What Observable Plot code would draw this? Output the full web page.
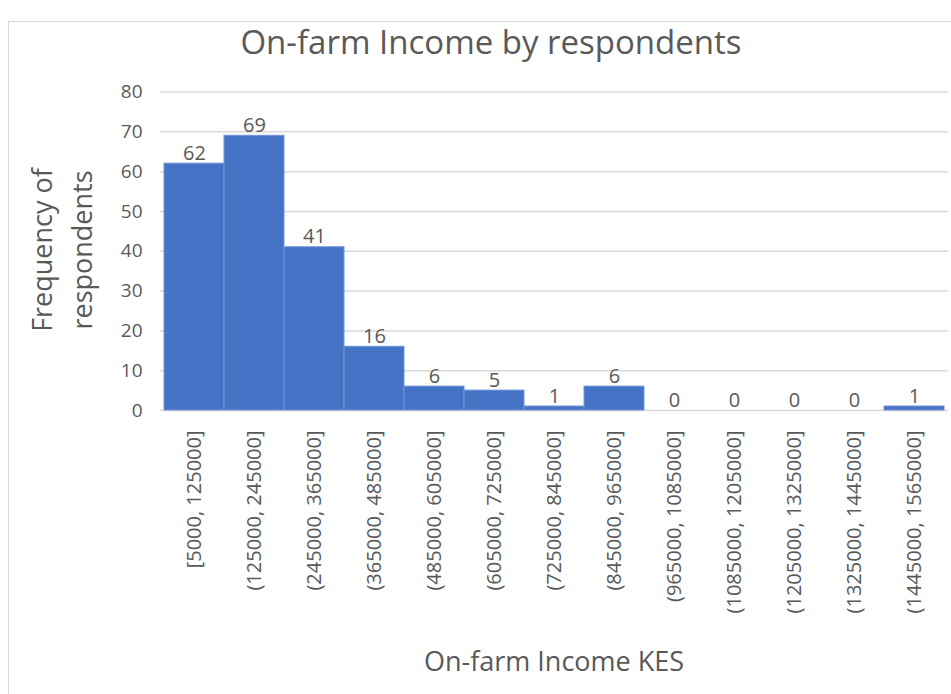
<!DOCTYPE html>
<html>
<head>
<meta charset="utf-8">
<script src="https://cdn.jsdelivr.net/npm/d3@7"></script>
<script src="https://cdn.jsdelivr.net/npm/@observablehq/plot@0.6"></script>
<style>
  html, body { margin: 0; padding: 0; background: #fff; }
  #wrap { position: relative; width: 951px; height: 694px; overflow: hidden; font-family: "Open Sans", sans-serif; }
  #frame { position: absolute; left: 8px; top: 21px; width: 1000px; height: 700px; border: 1px solid #d9d9d9; box-sizing: border-box; }
  #chart { position: absolute; left: 0; top: 0; }
  .lbl { position: absolute; color: #595959; white-space: nowrap; }
</style>
</head>
<body>
<div id="wrap">
  <div id="frame"></div>
  <div id="chart"></div>
  <div class="lbl" id="title" style="left:0;width:982px;text-align:center;top:22px;font-size:33px;line-height:40px;">On-farm Income by respondents</div>
  <div class="lbl" id="ylab" style="left:62px;top:250px;font-size:27px;line-height:40px;text-align:center;transform:translate(-50%,-50%) rotate(-90deg);">Frequency of<br>respondents</div>
  <div class="lbl" id="xlab" style="left:160px;width:788px;text-align:center;top:642px;font-size:27px;">On-farm Income KES</div>
</div>
<script>
const bins = ["[5000, 125000]", "(125000, 245000]", "(245000, 365000]", "(365000, 485000]",
  "(485000, 605000]", "(605000, 725000]", "(725000, 845000]", "(845000, 965000]",
  "(965000, 1085000]", "(1085000, 1205000]", "(1205000, 1325000]", "(1325000, 1445000]",
  "(1445000, 1565000]"];
const counts = [62, 69, 41, 16, 6, 5, 1, 6, 0, 0, 0, 0, 1];
const yTicks = [0, 10, 20, 30, 40, 50, 60, 70, 80];

const data = bins.map((b, i) => ({bin: b, count: counts[i]}));

const chart = Plot.plot({
  width: 951,
  height: 694,
  marginTop: 91.5,
  marginBottom: 284,
  marginLeft: 160,
  marginRight: 3,
  style: {fontFamily: "Open Sans, sans-serif", background: "transparent"},
  x: {domain: bins, padding: 0},
  y: {domain: [0, 80]},
  marks: [
    Plot.gridY(yTicks, {stroke: "#d9d9d9", strokeOpacity: 1, strokeWidth: 1.5}),
    Plot.barY(data.filter(d => d.count > 0), {x: "bin", y: "count", fill: "#4472C4", stroke: "#6f93d3", strokeWidth: 1, inset: 0}),
    Plot.text(data, {x: "bin", y: "count", text: d => String(d.count), lineAnchor: "bottom", dy: -4, fontSize: 20, fill: "#595959"}),
    Plot.axisY({ticks: yTicks, tickSize: 0, tickPadding: 18, fontSize: 19, color: "#595959", label: null}),
    Plot.axisX({tickRotate: -90, tickSize: 0, tickPadding: 20, fontSize: 20, color: "#595959", label: null})
  ]
});
document.getElementById("chart").appendChild(chart);
</script>
</body>
</html>
